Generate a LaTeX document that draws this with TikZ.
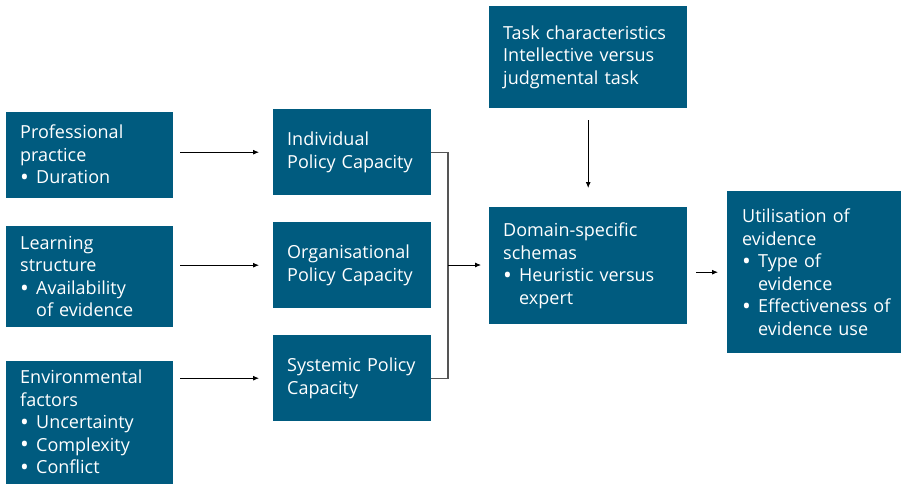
\documentclass[tikz,border=0pt]{standalone}
\usepackage{fontspec}
\setmainfont{Open Sans}
\usepackage{xcolor}
\usepackage{graphicx}
\usepackage{tikz}
\usetikzlibrary{arrows.meta}

\definecolor{boxblue}{HTML}{005B7F}
\definecolor{linegray}{HTML}{555555}

% bullet item and the indent of its second line
\newcommand{\bul}{\makebox[16pt][l]{\raisebox{-1.8pt}{\scalebox{1.3}{\textbullet}}}}
\newcommand{\bulind}{\hspace*{16pt}}

\begin{document}
\begin{tikzpicture}[
  x=1pt, y=-1pt,
  font=\fontsize{18}{22.5}\selectfont,
  box/.style={fill=boxblue, text=white, align=left, anchor=north west,
    inner xsep=14pt, inner ysep=0pt},
  arrow/.style={-{Latex[length=6pt,width=5pt]}, line width=0.8pt},
  bracket/.style={draw=linegray, line width=1.2pt}
]
\useasboundingbox (0,0) rectangle (901,484);

% influences on the left
\node[box, text width=139pt, minimum height=86pt] (prof) at (6,112)
  {Professional\\practice\\\bul Duration};
\node[box, text width=139pt, minimum height=101pt] (learn) at (6,226)
  {Learning\\structure\\\bul Availability\\\bulind of evidence};
\node[box, text width=139pt, minimum height=123pt] (env) at (6,361)
  {Environmental\\factors\\\bul Uncertainty\\\bul Complexity\\\bul Conflict};

% policy capacity levels
\node[box, text width=130pt, minimum height=86pt] (indiv) at (273,109)
  {Individual\\Policy Capacity};
\node[box, text width=130pt, minimum height=86pt] (org) at (273,222)
  {Organisational\\Policy Capacity};
\node[box, text width=130pt, minimum height=86pt] (system) at (273,335)
  {Systemic Policy\\Capacity};

% task and schemas
\node[box, text width=170pt, minimum height=102pt] (task) at (489,6)
  {Task characteristics\\Intellective versus\\judgmental task};
\node[box, text width=170pt, minimum height=117pt] (domain) at (489,207)
  {Domain-specific\\schemas\\\bul Heuristic versus\\\bulind expert};

% outcome
\node[box, text width=144pt, minimum height=162pt, inner xsep=15pt] (util) at (727,191)
  {Utilisation of\\evidence\\\bul Type of\\\bulind evidence\\\bul \mbox{Effectiveness of}\\\bulind evidence use};

\draw[arrow, shorten <=7pt, shorten >=14pt] (prof.east |- indiv.west) -- (indiv.west);
\draw[arrow, shorten <=7pt, shorten >=14pt] (learn.east |- org.west) -- (org.west);
\draw[arrow, shorten <=7pt, shorten >=14pt] (env.east |- system.west) -- (system.west);

\coordinate (join) at (448,265);
\draw[bracket] (indiv.east) -| (join) |- (system.east);
\draw[bracket] (join) -- (org.east -| join);
\draw[arrow] (join) -- (481,265);

\draw[arrow, shorten <=12pt, shorten >=19pt] (task.south) -- (domain.north);
\draw[arrow, shorten <=9pt, shorten >=9pt] (domain.east |- util.west) -- (util.west);

\end{tikzpicture}
\end{document}
